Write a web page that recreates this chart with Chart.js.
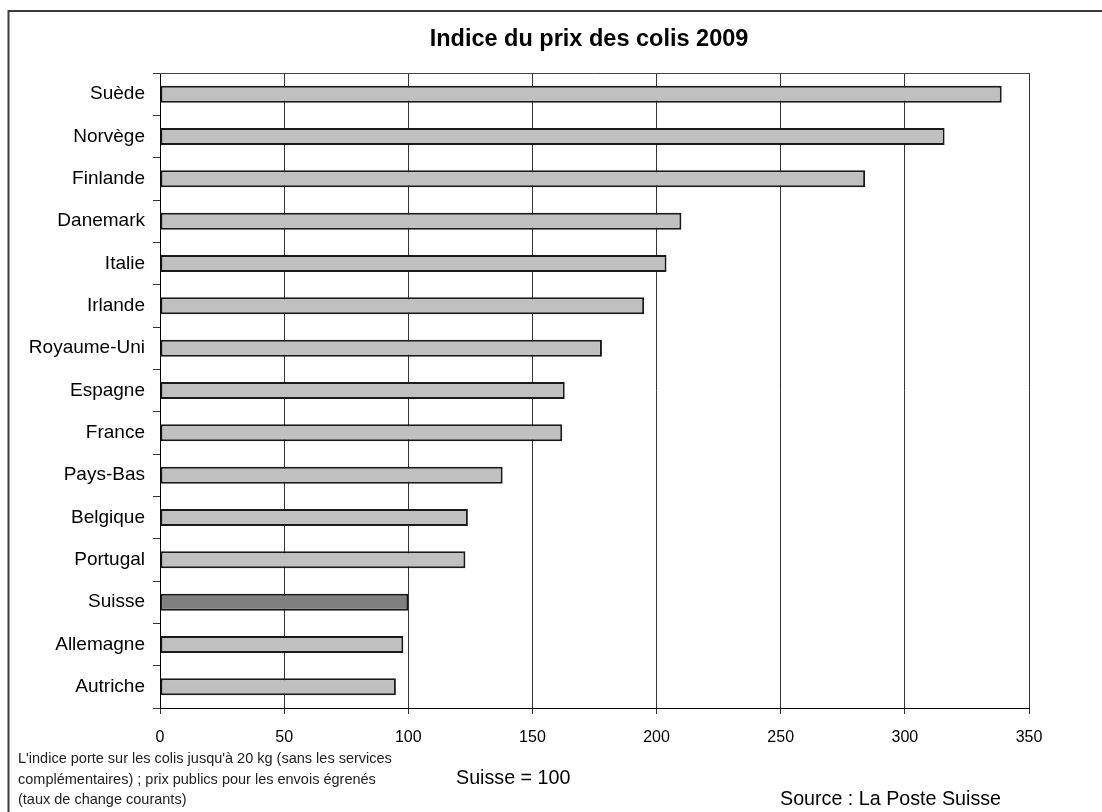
<!DOCTYPE html>
<html>
<head>
<meta charset="utf-8">
<script src="https://cdn.jsdelivr.net/npm/chart.js@4/dist/chart.umd.min.js"></script>
<style>
  html, body { margin: 0; padding: 0; background: #fff; }
  #wrap { position: relative; width: 1102px; height: 812px; }
</style>
</head>
<body>
<div id="wrap"><canvas id="c" width="1102" height="812"></canvas></div>
<script>
// Parcel price index 2009, Switzerland = 100
const countries = ["Suède", "Norvège", "Finlande", "Danemark", "Italie", "Irlande", "Royaume-Uni",
  "Espagne", "France", "Pays-Bas", "Belgique", "Portugal", "Suisse", "Allemagne", "Autriche"];
const indexValues = [339, 316, 284, 210, 204, 195, 178, 163, 162, 138, 124, 123, 100, 98, 95];
const highlighted = "Suisse";
const xTicks = [0, 50, 100, 150, 200, 250, 300, 350];

const titleText = "Indice du prix des colis 2009";
const noteLines = [
  "L'indice porte sur les colis jusqu'à 20 kg (sans les services",
  "complémentaires) ; prix publics pour les envois égrenés",
  "(taux de change courants)"
];
const baseText = "Suisse = 100";
const sourceText = "Source : La Poste Suisse";

const FONT = "'Liberation Sans', Arial, sans-serif";

const barColors = countries.map(c => c === highlighted ? "#808080" : "#c0c0c0");

const decor = {
  id: "decor",
  beforeDraw(chart) {
    const ctx = chart.ctx;
    ctx.save();
    ctx.fillStyle = "#fff";
    ctx.fillRect(0, 0, chart.width, chart.height);
    // outer frame
    ctx.strokeStyle = "#3a3a3a";
    ctx.lineWidth = 2;
    ctx.beginPath();
    ctx.moveTo(8.5, chart.height + 2);
    ctx.lineTo(8.5, 11);
    ctx.lineTo(chart.width + 2, 11);
    ctx.stroke();
    ctx.restore();
  },
  afterDraw(chart) {
    const ctx = chart.ctx;
    const a = chart.chartArea;
    ctx.save();
    // plot area top border
    ctx.strokeStyle = "#444";
    ctx.lineWidth = 1;
    ctx.beginPath();
    ctx.moveTo(a.left, Math.round(a.top) + 0.5);
    ctx.lineTo(a.right, Math.round(a.top) + 0.5);
    ctx.stroke();

    ctx.fillStyle = "#000";
    ctx.textBaseline = "middle";
    ctx.textAlign = "center";
    ctx.font = "bold 23.5px " + FONT;
    ctx.fillText(titleText, 589, 40);

    ctx.textAlign = "left";
    ctx.font = "14.5px " + FONT;
    ctx.fillStyle = "#222";
    noteLines.forEach((t, i) => ctx.fillText(t, 18, 759 + i * 20.5));

    ctx.fillStyle = "#000";
    ctx.font = "19.7px " + FONT;
    ctx.fillText(baseText, 456, 779);
    ctx.fillText(sourceText, 780, 800);
    ctx.restore();
  }
};

new Chart(document.getElementById("c"), {
  type: "bar",
  data: {
    labels: countries,
    datasets: [{
      data: indexValues,
      backgroundColor: barColors,
      borderColor: "#1a1a1a",
      borderWidth: 2,
      borderSkipped: false,
      categoryPercentage: 1,
      barPercentage: 0.4
    }]
  },
  options: {
    indexAxis: "y",
    responsive: false,
    animation: false,
    devicePixelRatio: 1,
    layout: { padding: { top: 73, right: 73, left: 0, bottom: 0 } },
    plugins: {
      legend: { display: false },
      title: { display: false },
      tooltip: { enabled: false }
    },
    scales: {
      x: {
        type: "linear",
        min: 0,
        max: 350,
        afterBuildTicks(scale) { scale.ticks = xTicks.map(v => ({ value: v })); },
        afterFit(scale) { scale.height = 104; },
        grid: { color: "#333", lineWidth: 1, tickLength: 6, drawOnChartArea: true },
        border: { display: true, color: "#000", width: 1 },
        ticks: { color: "#000", font: { family: FONT, size: 16 }, padding: 14, maxRotation: 0 }
      },
      y: {
        type: "category",
        offset: true,
        afterFit(scale) { scale.width = 160; },
        grid: { offset: true, drawOnChartArea: false, drawTicks: true, tickLength: 7, color: "#333" },
        border: { display: true, color: "#000", width: 1 },
        ticks: { color: "#000", font: { family: FONT, size: 19 }, padding: 8 }
      }
    }
  },
  plugins: [decor]
});
</script>
</body>
</html>
